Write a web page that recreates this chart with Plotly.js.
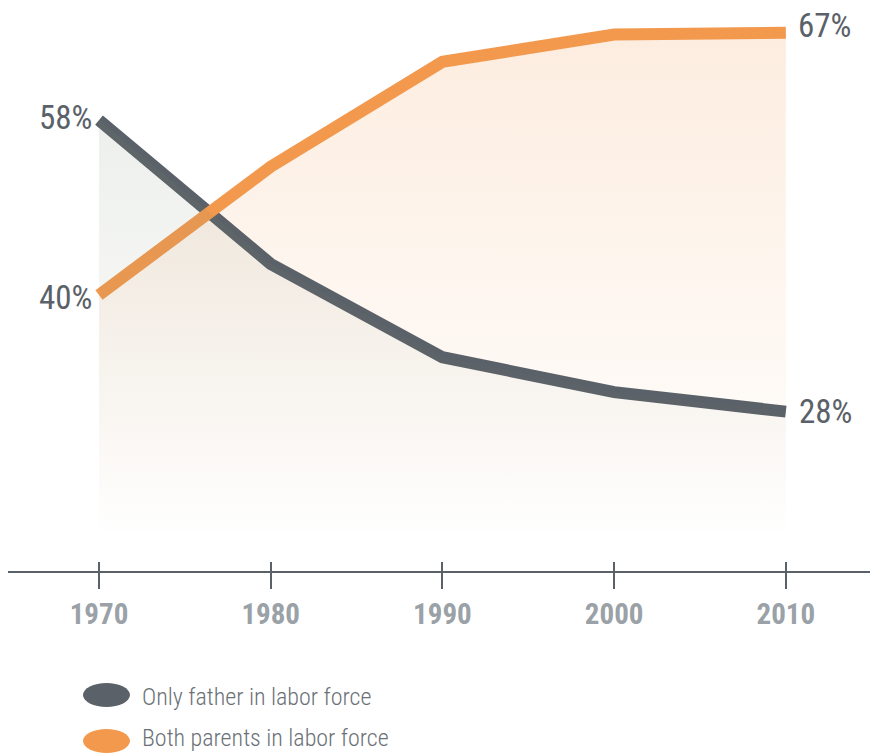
<!DOCTYPE html>
<html>
<head>
<meta charset="utf-8">
<script src="https://cdn.plot.ly/plotly-3.0.1.min.js"></script>
<style>
  html, body { margin: 0; padding: 0; background: #ffffff; }
  #chart { width: 877px; height: 753px; }
</style>
</head>
<body>
<div id="chart"></div>
<script>
// ---- data ----
const years = [1970, 1980, 1990, 2000, 2010];
const onlyFather = [58, 43.2, 33.6, 30.0, 28];
const bothParents = [40, 53.2, 64.0, 66.8, 67];
const seriesNames = ['Only father in labor force', 'Both parents in labor force'];
const tickLabels = ['1970', '1980', '1990', '2000', '2010'];

// ---- styles ----
const GRAY = '#5b6168';
const ORANGE = '#f2994e';
const FONT = '"Roboto Condensed", "Open Sans", sans-serif';

const traces = [
  { // gray fill
    x: years, y: onlyFather, type: 'scatter', mode: 'lines', xaxis: 'x2',
    line: { width: 0, color: GRAY }, fill: 'tozeroy',
    fillgradient: { type: 'vertical', start: 15, stop: 58,
      colorscale: [[0, 'rgba(120,135,110,0)'], [1, 'rgba(120,135,110,0.13)']] },
    hoverinfo: 'skip', showlegend: false
  },
  { // orange fill
    x: years, y: bothParents, type: 'scatter', mode: 'lines',
    line: { width: 0, color: ORANGE }, fill: 'tozeroy',
    fillgradient: { type: 'vertical', start: 15, stop: 67,
      colorscale: [[0, 'rgba(242,153,78,0)'], [1, 'rgba(242,153,78,0.18)']] },
    hoverinfo: 'skip', showlegend: false
  },
  {
    x: years, y: onlyFather, type: 'scatter', mode: 'lines', name: seriesNames[0],
    line: { width: 12, color: GRAY }, showlegend: false
  },
  {
    x: years, y: bothParents, type: 'scatter', mode: 'lines', name: seriesNames[1],
    line: { width: 12, color: ORANGE }, showlegend: false
  }
];

const n = years.length - 1;
const annotations = [
  { x: years[0], y: onlyFather[0], text: onlyFather[0] + '%', xanchor: 'right', yanchor: 'middle', xshift: -5, yshift: 3 },
  { x: years[0], y: bothParents[0], text: bothParents[0] + '%', xanchor: 'right', yanchor: 'middle', xshift: -5, yshift: -2 },
  { x: years[n], y: bothParents[n], text: bothParents[n] + '%', xanchor: 'left', yanchor: 'middle', xshift: 10, yshift: 7 },
  { x: years[n], y: onlyFather[n], text: onlyFather[n] + '%', xanchor: 'left', yanchor: 'middle', xshift: 11, yshift: 0 }
].map(a => Object.assign({ xref: 'x', yref: 'y', showarrow: false,
  font: { family: FONT, size: 33, color: GRAY } }, a));

// legend (drawn manually)
annotations.push(
  { xref: 'paper', yref: 'paper', x: 0.1531, y: -0.2287, text: seriesNames[0], xanchor: 'left', yanchor: 'middle', showarrow: false, font: { family: FONT, size: 24, color: '#6b7177', weight: 300 } },
  { xref: 'paper', yref: 'paper', x: 0.1531, y: -0.3030, text: seriesNames[1], xanchor: 'left', yanchor: 'middle', showarrow: false, font: { family: FONT, size: 24, color: '#6b7177', weight: 300 } }
);
const shapes = [
  { type: 'circle', xref: 'paper', yref: 'paper', x0: 0.087, x1: 0.1415, y0: -0.2033, y1: -0.2468, fillcolor: GRAY, line: { width: 0 } },
  { type: 'circle', xref: 'paper', yref: 'paper', x0: 0.087, x1: 0.1415, y0: -0.2868, y1: -0.3303, fillcolor: ORANGE, line: { width: 0 } }
];

const xRange = [1964.7, 2014.9];
const layout = {
  width: 877, height: 753,
  margin: { l: 8, r: 7, t: 20, b: 182 },
  paper_bgcolor: '#ffffff', plot_bgcolor: 'rgba(0,0,0,0)',
  showlegend: false,
  xaxis: {
    range: xRange, tickvals: years, ticktext: tickLabels,
    showgrid: false, zeroline: false,
    showline: true, linecolor: GRAY, linewidth: 2,
    ticks: 'outside', ticklen: 16, tickwidth: 2, tickcolor: GRAY,
    tickfont: { family: FONT, size: 29, color: '#9aa1a7', weight: 'bold' },
    fixedrange: true
  },
  xaxis2: {
    overlaying: 'x', matches: 'x', anchor: 'y', side: 'bottom', range: xRange,
    tickvals: years, showticklabels: false, showgrid: false, zeroline: false, showline: false,
    ticks: 'inside', ticklen: 9, tickwidth: 2, tickcolor: GRAY
  },
  yaxis: {
    range: [11.6, 68.3], visible: false, showgrid: false, zeroline: false, fixedrange: true
  },
  annotations: annotations,
  shapes: shapes
};

Plotly.newPlot('chart', traces, layout, { displayModeBar: false, staticPlot: true });
</script>
</body>
</html>
